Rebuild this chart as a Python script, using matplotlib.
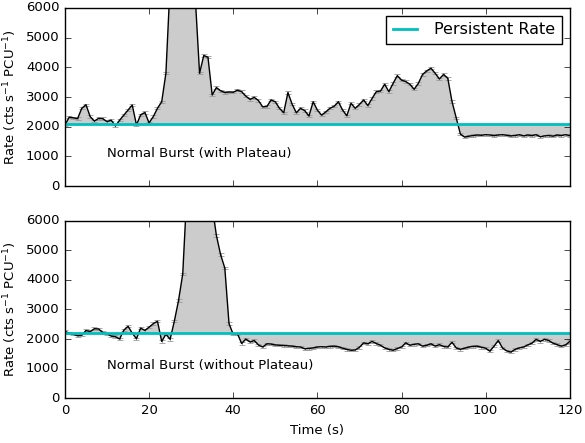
import numpy as np
import matplotlib
matplotlib.use("Agg")
import matplotlib.pyplot as plt

# --- data (1 s bins) ---
time_s = np.arange(0, 121)

rate_plateau = [
    2050, 2320, 2300, 2270, 2620, 2740, 2340, 2190, 2280, 2270,
    2170, 2220, 2020, 2220, 2390, 2560, 2730, 2060, 2400, 2480,
    2130, 2340, 2620, 2840, 3800, 6800, 8500, 9000, 8700, 8000,
    7000, 6300, 3800, 4400, 4340, 3070, 3320, 3210, 3150, 3170,
    3160, 3230, 3180, 3030, 2920, 2990, 2880, 2670, 2680, 2900,
    2840, 2620, 2470, 3150, 2760, 2470, 2620, 2540, 2360, 2840,
    2560, 2390, 2500, 2620, 2690, 2840, 2560, 2370, 2790, 2620,
    2750, 2900, 2710, 2950, 3180, 3200, 3430, 3180, 3460, 3720,
    3570, 3520, 3430, 3260, 3460, 3760, 3880, 3970, 3800, 3610,
    3760, 3630, 2850, 2300, 1750, 1650, 1680, 1700, 1720, 1710,
    1730, 1720, 1700, 1720, 1730, 1710, 1690, 1700, 1730, 1690,
    1720, 1700, 1730, 1660, 1690, 1700, 1680, 1720, 1700, 1730,
    1700,
]

rate_no_plateau = [
    2260, 2200, 2160, 2110, 2130, 2290, 2250, 2350, 2340, 2220,
    2180, 2100, 2080, 2000, 2300, 2430, 2200, 2010, 2370, 2290,
    2400, 2520, 2600, 1920, 2160, 1990, 2600, 3300, 4200, 7000,
    9000, 9500, 9300, 8600, 7600, 6500, 5500, 4850, 4400, 2520,
    2160, 2180, 1850, 2000, 1900, 1950, 1800, 1730, 1840, 1830,
    1800, 1790, 1780, 1770, 1760, 1740, 1730, 1670, 1680, 1700,
    1730, 1740, 1730, 1750, 1760, 1740, 1690, 1650, 1620, 1630,
    1720, 1870, 1840, 1920, 1850, 1790, 1700, 1650, 1620, 1680,
    1730, 1870, 1790, 1820, 1840, 1760, 1790, 1840, 1760, 1810,
    1750, 1730, 1890, 1700, 1650, 1690, 1730, 1750, 1760, 1720,
    1690, 1590, 1760, 1950, 1700, 1600, 1560, 1650, 1700, 1730,
    1800, 1860, 1990, 1920, 1990, 1950, 1860, 1810, 1760, 1800,
    1920,
]

persistent_plateau = 2100
persistent_no_plateau = 2200
rate_err = 40

labels = ["Normal Burst (with Plateau)", "Normal Burst (without Plateau)"]

# --- plotting ---
plt.style.use("classic")
plt.rcParams["mathtext.fontset"] = "dejavusans"
plt.rcParams["font.size"] = 9.5

fig = plt.figure(figsize=(5.85, 4.43), dpi=100, facecolor="white")
ax1 = fig.add_axes([0.111, 0.580, 0.863, 0.402])
ax2 = fig.add_axes([0.111, 0.101, 0.863, 0.401])

panels = [
    (ax1, rate_plateau, persistent_plateau, labels[0]),
    (ax2, rate_no_plateau, persistent_no_plateau, labels[1]),
]

for ax, rate, persist, label in panels:
    rate = np.array(rate)
    ax.fill_between(time_s, rate, persist, color="0.8", edgecolor="none")
    ax.errorbar(time_s, rate, yerr=rate_err, fmt="none", ecolor="0.6",
                elinewidth=0.6, capsize=2.5, capthick=0.6)
    ax.plot(time_s, rate, color="black", lw=1.0)
    ax.axhline(persist, color="c", lw=2, label="Persistent Rate")
    ax.text(10, 1100, label, fontsize=9.5, va="center")
    ax.set_xlim(0, 120)
    ax.set_ylim(0, 6000)
    ax.set_yticks(range(0, 6001, 1000))
    ax.set_xticks(range(0, 121, 20))
    ax.tick_params(labelsize=9.5)
    ax.set_ylabel("Rate (cts s$^{-1}$ PCU$^{-1}$)", fontsize=9.5)

ax1.set_xticklabels([])
ax2.set_xlabel("Time (s)", fontsize=9.5)
ax1.legend(loc="upper right", fontsize=11.5, handlelength=1.5,
           handletextpad=1.1, numpoints=1)

fig.savefig("out.png", dpi=100, facecolor="white")
